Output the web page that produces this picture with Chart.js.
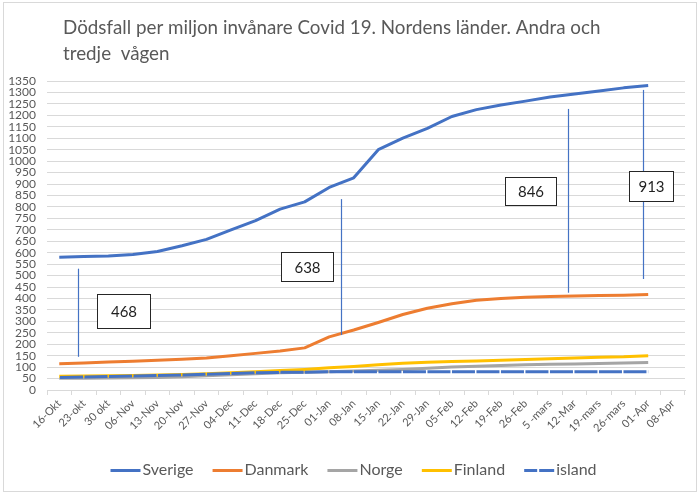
<!DOCTYPE html>
<html><head><meta charset="utf-8">
<script src="https://cdn.jsdelivr.net/npm/chart.js@4"></script>
<style>html,body{margin:0;padding:0;background:#fff}#wrap{width:700px;height:495px;position:relative}</style>
</head><body><div id="wrap"><canvas id="c" width="700" height="495"></canvas></div>
<script>
const titleLines = ['Dödsfall per miljon invånare Covid 19. Nordens länder. Andra och', 'tredje  vågen'];
const categories = ['16-Okt','23-okt','30 okt','06-Nov','13-Nov','20-Nov','27-Nov','04-Dec','11-Dec','18-Dec','25-Dec','01-Jan','08-Jan','15-Jan','22-Jan','29-Jan','05-Feb','12-Feb','19-Feb','26-Feb','5 -mars','12-Mar','19-mars','26-mars','01-Apr','08-Apr'];
const sverige = [580,583,585,592,605,630,658,700,740,790,822,885,927,1050,1100,1143,1195,1225,1245,1262,1280,1293,1306,1320,1330,null];
const danmark = [115,118,122,126,130,134,140,150,160,170,184,232,262,295,330,357,377,392,400,405,408,411,413,414,417,null];
const norge   = [51,51,52,53,55,58,62,67,71,75,78,80,83,86,90,95,100,104,107,110,112,114,116,118,120,null];
const finland = [60,61,62,63,65,68,71,75,80,85,90,97,103,110,117,121,125,127,130,133,137,140,143,145,150,null];
const island  = [55,57,59,61,63,66,69,72,75,77,78,80,80,80,80,80,80,80,80,80,80,80,80,80,80,null];
const seriesNames = ['Sverige','Danmark','Norge','Finland','island'];
const yMin = 0, yMax = 1350, yStep = 50;
// annotations (category index, value)
const markerLines = [
  {x:0.78, from:530, to:145},
  {x:11.47, from:834, to:240},
  {x:20.73, from:1228, to:425},
  {x:23.8, from:1311, to:485}
];
const markerBoxes = [
  {text:'468', x:2.63, y:345},
  {text:'638', x:10.08, y:540},
  {text:'846', x:19.2, y:869},
  {text:'913', x:24.12, y:891}
];
const boxSizes = [[53,34],[52,29],[51,28],[44,30]];

const FONT = 'Lato, "Open Sans", sans-serif';
const TXT = '#595959';

const framePlugin = {
  id:'frame',
  afterLayout(chart){
    if (chart.legend) { chart.legend.left += 7; chart.legend.right += 7; }
  },
  beforeDraw(chart){
    const c = chart.ctx;
    c.save();
    c.fillStyle='#fff'; c.fillRect(0,0,chart.width,chart.height);
    c.strokeStyle='#d9d9d9'; c.lineWidth=1;
    c.strokeRect(3.5,2.5,693,489);
    c.restore();
  },
  afterDraw(chart){
    const c = chart.ctx;
    c.save();
    c.fillStyle = TXT;
    c.textBaseline = 'alphabetic';
    c.textAlign = 'left';
    c.font = '20px ' + FONT;
    const w = c.measureText(titleLines[0]).width;
    const size = 20 * 538 / w;
    c.font = size.toFixed(2) + 'px ' + FONT;
    c.fillText(titleLines[0], 63, 34);
    c.fillText(titleLines[1], 63, 60);
    c.restore();
  }
};

const annotPlugin = {
  id:'annot',
  afterDatasetsDraw(chart){
    const c = chart.ctx, xs = chart.scales.x, ys = chart.scales.y;
    c.save();
    c.strokeStyle = '#4472C4'; c.lineWidth = 1.2;
    markerLines.forEach(l=>{
      const px = Math.round(xs.getPixelForValue(l.x))+0.5;
      c.beginPath();
      c.moveTo(px, ys.getPixelForValue(l.from));
      c.lineTo(px, ys.getPixelForValue(l.to));
      c.stroke();
    });
    markerBoxes.forEach((b,i)=>{
      const [w,h] = boxSizes[i];
      const cx = xs.getPixelForValue(b.x), cy = ys.getPixelForValue(b.y);
      const x0 = Math.round(cx - w/2)+0.5, y0 = Math.round(cy - h/2)+0.5;
      c.fillStyle = '#fff';
      c.fillRect(x0,y0,w,h);
      c.strokeStyle = '#262626'; c.lineWidth = 1;
      c.strokeRect(x0,y0,w,h);
      c.fillStyle = '#1f1f1f';
      c.font = '15px ' + FONT;
      c.textAlign='center'; c.textBaseline='middle';
      c.fillText(b.text, x0 + w/2, y0 + h/2 + 1);
    });
    c.restore();
  }
};

const colors = ['#4472C4','#ED7D31','#A5A5A5','#FFC000','#4472C4'];
// legend swatch images: a 30px line placed so it ends just before the label text
function swatch(color, dashed){
  const cv = document.createElement('canvas');
  cv.width = 40; cv.height = 4;
  const g = cv.getContext('2d');
  g.fillStyle = color;
  if (dashed) {
    g.fillRect(8,1,13,3); g.fillRect(23,1,15,3);
  } else {
    g.fillRect(8,1,30,3);
  }
  return cv;
}
const values = [sverige, danmark, norge, finland, island];
const datasets = values.map((v,i)=>({
  label: seriesNames[i],
  data: v,
  borderColor: colors[i],
  backgroundColor: colors[i],
  borderWidth: 3,
  pointRadius: 0,
  pointStyle: swatch(colors[i], i === 4),
  tension: 0,
  fill: false,
  order: 5 - i,
  borderJoinStyle: 'round',
  borderDash: i === 4 ? [23, 1.5] : [],
  borderDashOffset: i === 4 ? -0.75 : 0
}));

new Chart(document.getElementById('c'), {
  type:'line',
  data:{ labels: categories, datasets },
  plugins:[framePlugin, annotPlugin],
  options:{
    responsive:false,
    animation:false,
    devicePixelRatio:1,
    layout:{ padding:{ left:8, right:15, top:81, bottom:7 } },
    plugins:{
      title:{display:false},
      tooltip:{enabled:false},
      legend:{
        position:'bottom',
        labels:{
          usePointStyle:true,
          pointStyleWidth:24,
          color:TXT,
          font:{family:FONT, size:16},
          padding:19,
          sort:(a,b)=>a.datasetIndex-b.datasetIndex
        }
      }
    },
    scales:{
      x:{
        offset:true,
        grid:{ display:true, drawOnChartArea:false, drawTicks:true, tickLength:5, offset:true, color:'#d9d9d9' },
        border:{ display:true, color:'#d9d9d9' },
        ticks:{ autoSkip:false, maxRotation:45, minRotation:45, color:TXT, font:{family:FONT, size:11}, padding:2 },
        afterFit:(s)=>{ s.height = 53; }
      },
      y:{
        min:yMin, max:yMax,
        grid:{ color:'#d9d9d9', drawTicks:false },
        border:{ display:false },
        ticks:{ stepSize:yStep, autoSkip:false, color:TXT, font:{family:FONT, size:12}, padding:11,
          callback:(v)=>String(v) },
        afterFit:(s)=>{ s.width = 39; }
      }
    }
  }
});
</script>
</body></html>
